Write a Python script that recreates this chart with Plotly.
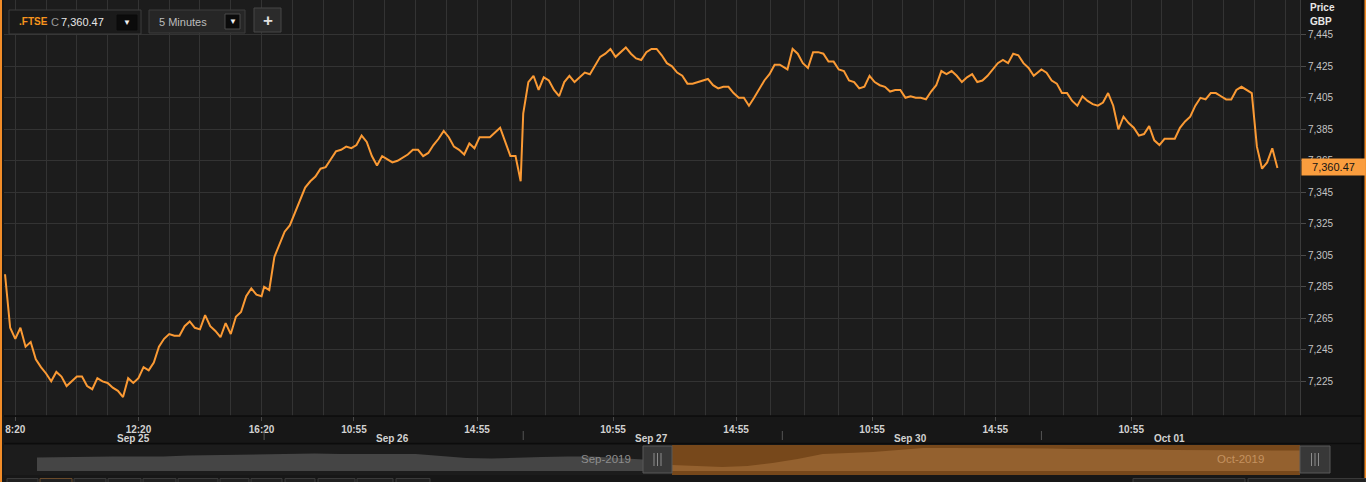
import pandas as pd
import plotly.graph_objects as go

# ---------------- data ----------------
days = ["2019-09-25", "2019-09-26", "2019-09-27", "2019-09-30", "2019-10-01"]
day_labels = ["Sep 25", "Sep 26", "Sep 27", "Sep 30", "Oct 01"]

# FTSE price every 10 minutes from 08:00 of each session
sep25 = [7293, 7259, 7252, 7259, 7247, 7250, 7239, 7234, 7230, 7225,
         7231, 7228, 7222, 7225, 7228, 7228, 7222, 7220, 7227, 7225,
         7224, 7221, 7219, 7215, 7227, 7224, 7227, 7234, 7232, 7237,
         7247, 7252, 7255, 7254, 7254, 7260, 7263, 7259, 7258, 7267,
         7260, 7257, 7253, 7262, 7255, 7266, 7269, 7279, 7284, 7280,
         7279]
sep26 = [7285, 7283, 7304, 7312, 7320, 7324, 7332, 7339, 7348, 7352,
         7355, 7360, 7361, 7366, 7371, 7372, 7374, 7373, 7375, 7381,
         7377, 7368, 7362, 7368, 7366, 7364, 7365, 7367, 7369, 7372,
         7372, 7368, 7370, 7375, 7379, 7384, 7380, 7374, 7372, 7369,
         7376, 7373, 7380, 7380, 7380, 7383, 7386, 7377, 7368, 7368,
         7352]
sep27 = [7395, 7415, 7419, 7410, 7418, 7416, 7410, 7406, 7415, 7419,
         7415, 7418, 7421, 7420, 7426, 7431, 7433, 7436, 7431, 7434,
         7437, 7433, 7430, 7429, 7434, 7436, 7436, 7432, 7427, 7425,
         7421, 7419, 7414, 7414, 7415, 7416, 7417, 7413, 7411, 7412,
         7412, 7408, 7405, 7405, 7400, 7405, 7411, 7416, 7420, 7426,
         7426]
sep30 = [7425, 7423, 7436, 7433, 7427, 7424, 7434, 7434, 7433, 7428,
         7428, 7423, 7422, 7416, 7415, 7411, 7412, 7419, 7415, 7413,
         7412, 7409, 7410, 7410, 7405, 7406, 7405, 7405, 7404, 7409,
         7413, 7422, 7420, 7422, 7419, 7415, 7418, 7420, 7415, 7416,
         7419, 7423, 7427, 7429, 7427, 7433, 7432, 7427, 7424, 7419,
         7422]
oct01 = [7423, 7421, 7416, 7414, 7408, 7408, 7403, 7400, 7406, 7403,
         7401, 7400, 7402, 7408, 7400, 7385, 7393, 7389, 7386, 7381,
         7382, 7387, 7378, 7375, 7379, 7379, 7379, 7386, 7390, 7393,
         7400, 7405, 7404, 7408, 7408, 7406, 7404, 7404, 7410, 7412,
         7410, 7408, 7374, 7360, 7364, 7373, 7360.47]

last_close = 7360.47

tick_times = ["2019-09-25 08:20", "2019-09-25 12:20", "2019-09-25 16:20",
              "2019-09-26 10:55", "2019-09-26 14:55",
              "2019-09-27 10:55", "2019-09-27 14:55",
              "2019-09-30 10:55", "2019-09-30 14:55",
              "2019-10-01 10:55"]
tick_labels = ["8:20", "12:20", "16:20", "10:55", "14:55",
               "10:55", "14:55", "10:55", "14:55", "10:55"]
y_ticks = [7225, 7245, 7265, 7285, 7305, 7325, 7345, 7365, 7385, 7405, 7425, 7445]

# navigator (relative heights)
nav_sep = [13.5, 14, 14, 14.5, 14.5, 14.5, 15.5, 16, 16.5, 17, 17.5, 17.5, 17,
           17, 17, 17, 15, 13, 12.5, 13.5, 14, 14.5, 14.5, 13, 11.5]
nav_oct = [6, 5, 4, 5, 8, 12, 17, 18, 19, 21, 23, 23, 23, 22.5, 23, 22.5, 22,
           22, 22, 21.5, 21, 21, 21, 21, 21, 20.5]

# ---------------- geometry helpers ----------------
W, H = 1366, 482
ML, MR, MT, MB = 4, 66, 0, 7
PW, PH = W - ML - MR, H - MT - MB


def px_x(p):
    return (p - ML) / PW


def px_y(p):
    return (PH - (p - MT)) / PH


# session bar timeline (5-minute bars 08:00..16:20)
timeline = []
for d in days:
    timeline.extend(pd.date_range(f"{d} 08:00", f"{d} 16:20", freq="5min"))
pos = {t: i for i, t in enumerate(timeline)}

xs, ys = [], []
for d, vals in zip(days, [sep25, sep26, sep27, sep30, oct01]):
    times = pd.date_range(f"{d} 08:00", periods=len(vals), freq="10min")
    xs += [pos[t] for t in times]
    ys += vals

tick_idx = [pos[pd.Timestamp(t)] for t in tick_times]
minor = []
for a, b in zip(tick_idx[:-1], tick_idx[1:]):
    n = max(1, round((b - a) / 12))
    minor += [a + (b - a) * j / n for j in range(1, n)]
v = tick_idx[-1] + 12
while v < 505:
    minor.append(v)
    v += 12

ORANGE = "#fb9a34"
GRID = "#333333"
FONT = "Arial"

fig = go.Figure()
fig.add_trace(go.Scatter(x=xs, y=ys, mode="lines",
                         line=dict(color=ORANGE, width=2),
                         hoverinfo="skip", showlegend=False))

# navigator traces
nav_x_sep = [33 + (639 - 33) * i / (len(nav_sep) - 1) for i in range(len(nav_sep))]
nav_x_oct = [668 + (1296 - 668) * i / (len(nav_oct) - 1) for i in range(len(nav_oct))]
fig.add_trace(go.Scatter(x=nav_x_sep, y=nav_sep, mode="lines", fill="tozeroy",
                         line=dict(width=0, color="#454545"), fillcolor="#454545",
                         xaxis="x2", yaxis="y2", hoverinfo="skip", showlegend=False))
fig.add_trace(go.Scatter(x=nav_x_oct, y=nav_oct, mode="lines", fill="tozeroy",
                         line=dict(width=0, color="#94612f"), fillcolor="#94612f",
                         xaxis="x2", yaxis="y2", hoverinfo="skip", showlegend=False))

shapes = []
# selected navigator window background
shapes.append(dict(type="rect", xref="x2", yref="y2", x0=668, x1=1296, y0=-4, y1=26,
                   fillcolor="#77481b", line=dict(width=0), layer="below"))
# plot bottom border and separator
shapes.append(dict(type="line", xref="paper", yref="paper", x0=px_x(4), x1=px_x(1362),
                   y0=px_y(416), y1=px_y(416), line=dict(color="#0c0c0c", width=1.5)))
shapes.append(dict(type="line", xref="paper", yref="paper", x0=px_x(4), x1=px_x(1362),
                   y0=px_y(443.5), y1=px_y(443.5), line=dict(color="#0c0c0c", width=1.5)))
# day separator ticks on time axis
for d in days[1:]:
    i = pos[pd.Timestamp(f"{d} 08:00")]
    shapes.append(dict(type="line", xref="x", yref="paper", x0=i, x1=i,
                       y0=px_y(431), y1=px_y(440), line=dict(color="#555555", width=1)))
# page borders
shapes.append(dict(type="line", xref="paper", yref="paper", x0=px_x(1), x1=px_x(1),
                   y0=px_y(482), y1=1, line=dict(color="#f28c28", width=2)))
shapes.append(dict(type="line", xref="paper", yref="paper", x0=px_x(1362.5), x1=px_x(1362.5),
                   y0=px_y(482), y1=1, line=dict(color="#0a0a0a", width=2)))
shapes.append(dict(type="line", xref="paper", yref="paper", x0=px_x(1365.5), x1=px_x(1365.5),
                   y0=px_y(482), y1=1, line=dict(color="#f28c28", width=2)))
# navigator handles
for hx0, hx1 in [(643, 672), (1300, 1330)]:
    shapes.append(dict(type="rect", xref="paper", yref="paper", x0=px_x(hx0), x1=px_x(hx1),
                       y0=px_y(473), y1=px_y(446), fillcolor="#383838",
                       line=dict(color="#585858", width=1)))
    c = (hx0 + hx1) / 2
    for dx in (-3.5, 0, 3.5):
        shapes.append(dict(type="line", xref="paper", yref="paper",
                           x0=px_x(c + dx), x1=px_x(c + dx), y0=px_y(466), y1=px_y(453),
                           line=dict(color="#8c8c8c", width=1)))
# top-left controls
ctrl = [((9, 141, 10, 34), "#1a1a1a", "#3c3c3c"),
        ((117, 137, 15, 30), "#0b0b0b", "#0b0b0b"),
        ((149, 245, 10, 33), "#262626", "#3c3c3c"),
        ((225, 240, 14, 29), "#0b0b0b", "#4a4a4a"),
        ((254, 281, 8, 32), "#2b2b2b", "#474747")]
for (a, b, c0, c1), fc, lc in ctrl:
    shapes.append(dict(type="rect", xref="paper", yref="paper", x0=px_x(a), x1=px_x(b),
                       y0=px_y(c1), y1=px_y(c0), fillcolor=fc, line=dict(color=lc, width=1)))
# bottom toolbar buttons (partly visible)
btns = [(7, 38), (40, 72), (74, 106), (108, 141), (143, 176), (178, 218), (220, 249),
        (251, 282), (285, 315), (318, 355), (357, 393), (396, 430), (1133, 1245), (1248, 1366)]
for k, (a, b) in enumerate(btns):
    shapes.append(dict(type="rect", xref="paper", yref="paper", x0=px_x(a), x1=px_x(b),
                       y0=px_y(494), y1=px_y(478.5), fillcolor="#202020",
                       line=dict(color="#6a4a2a" if k == 1 else "#3a3a3a", width=1)))

ann = []
for d, lab in zip(days, day_labels):
    ann.append(dict(x=pos[pd.Timestamp(f"{d} 12:10")], xref="x", y=px_y(438), yref="paper",
                    text=lab, showarrow=False, xanchor="center", yanchor="middle",
                    font=dict(family=FONT, size=10, color="#d2d2d2", weight="bold")))
ann.append(dict(x=px_x(1308), y=px_y(7.5), xref="paper", yref="paper", text="Price",
                showarrow=False, xanchor="left", yanchor="middle",
                font=dict(family=FONT, size=10, color="#e8e8e8", weight="bold")))
ann.append(dict(x=px_x(1308), y=px_y(21), xref="paper", yref="paper", text="GBP",
                showarrow=False, xanchor="left", yanchor="middle",
                font=dict(family=FONT, size=10, color="#e8e8e8", weight="bold")))
ann.append(dict(x=px_x(1301), xref="paper", y=last_close, yref="y",
                text=f"{last_close:,.2f}", showarrow=False, xanchor="left", yanchor="middle",
                bgcolor="#fa9d3e", width=61, height=14, borderpad=1, yshift=1,
                font=dict(family=FONT, size=11, color="#141414")))
ann.append(dict(x=px_x(17), y=px_y(22), xref="paper", yref="paper", text=".FTSE",
                showarrow=False, xanchor="left", yanchor="middle",
                font=dict(family=FONT, size=10, color="#f7941d", weight="bold")))
ann.append(dict(x=px_x(49), y=px_y(22), xref="paper", yref="paper", text="C",
                showarrow=False, xanchor="left", yanchor="middle",
                font=dict(family=FONT, size=11, color="#9a9a9a")))
ann.append(dict(x=px_x(59), y=px_y(22), xref="paper", yref="paper",
                text=f"{last_close:,.2f}", showarrow=False, xanchor="left", yanchor="middle",
                font=dict(family=FONT, size=11, color="#e6e6e6")))
ann.append(dict(x=px_x(127), y=px_y(22.5), xref="paper", yref="paper", text="▼",
                showarrow=False, xanchor="center", yanchor="middle",
                font=dict(family=FONT, size=8, color="#f0f0f0")))
ann.append(dict(x=px_x(157), y=px_y(21.5), xref="paper", yref="paper", text="5 Minutes",
                showarrow=False, xanchor="left", yanchor="middle",
                font=dict(family=FONT, size=11, color="#bdbdbd")))
ann.append(dict(x=px_x(232.5), y=px_y(22), xref="paper", yref="paper", text="▼",
                showarrow=False, xanchor="center", yanchor="middle",
                font=dict(family=FONT, size=8, color="#f0f0f0")))
ann.append(dict(x=px_x(267.5), y=px_y(20), xref="paper", yref="paper", text="+",
                showarrow=False, xanchor="center", yanchor="middle",
                font=dict(family=FONT, size=17, color="#e0e0e0", weight="bold")))
ann.append(dict(x=px_x(633), y=px_y(459), xref="paper", yref="paper", text="Sep-2019",
                showarrow=False, xanchor="right", yanchor="middle",
                font=dict(family=FONT, size=11.5, color="#8e8e8e")))
ann.append(dict(x=px_x(1266), y=px_y(459), xref="paper", yref="paper", text="Oct-2019",
                showarrow=False, xanchor="right", yanchor="middle",
                font=dict(family=FONT, size=11.5, color="#c4925f")))

fig.update_layout(
    width=W, height=H,
    margin=dict(l=ML, r=MR, t=MT, b=MB),
    paper_bgcolor="#171717", plot_bgcolor="#1c1c1c",
    showlegend=False, hovermode=False,
    xaxis=dict(domain=[0, 1], range=[-0.4, 504.8], anchor="y",
               tickmode="array", tickvals=tick_idx, ticktext=tick_labels,
               ticks="outside", ticklen=4, tickcolor="#4a4a4a",
               showgrid=True, gridcolor=GRID, gridwidth=1,
               minor=dict(tickmode="array", tickvals=minor, showgrid=True,
                          gridcolor=GRID, gridwidth=1, ticks=""),
               showline=False, zeroline=False,
               tickfont=dict(family=FONT, size=10, color="#d2d2d2", weight="bold")),
    yaxis=dict(domain=[px_y(416), 1], range=[7203, 7467.1], side="right", anchor="x",
               tickmode="array", tickvals=y_ticks, tickformat=",d",
               ticks="outside", ticklen=5, tickcolor="#4a4a4a",
               showgrid=True, gridcolor=GRID, gridwidth=1,
               showline=True, linecolor="#3a3a3a", linewidth=1, zeroline=False,
               tickfont=dict(family=FONT, size=10, color="#c4c4c4")),
    xaxis2=dict(domain=[0, 1], range=[0, 1296], anchor="y2", visible=False),
    yaxis2=dict(domain=[0, px_y(445)], range=[-4, 26], anchor="x2", visible=False),
    shapes=shapes, annotations=ann,
)

fig.write_html("out.html", config={"displayModeBar": False},
               post_script="document.body.style.margin='0';document.body.style.background='#171717';")
